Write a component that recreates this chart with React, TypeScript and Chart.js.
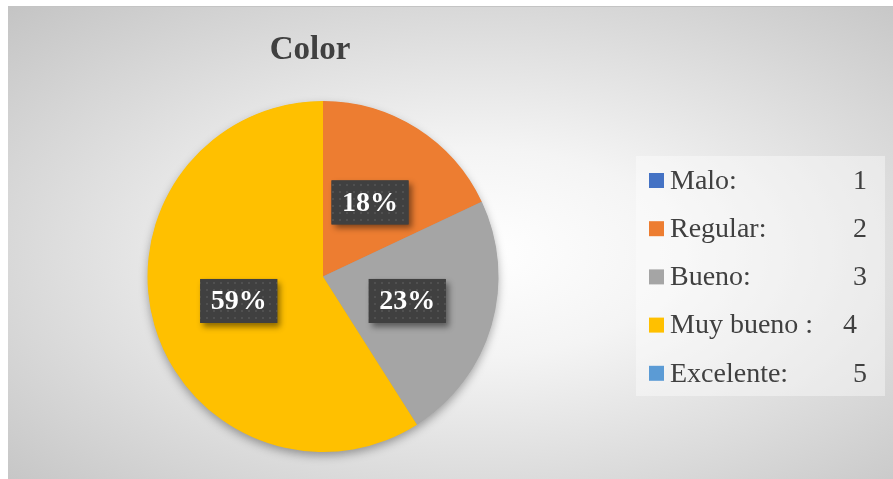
import React, { useEffect, useRef } from "react";
import { Chart, registerables } from "chart.js";

Chart.register(...registerables);

const chartTitle = "Color";
const categories = ["Malo:", "Regular:", "Bueno:", "Muy bueno :", "Excelente:"];
const legendNumbers = ["1", "2", "3", "4", "5"];
const values = [0, 18, 23, 59, 0];
const colors = ["#4472C4", "#ED7D31", "#A5A5A5", "#FFC000", "#5B9BD5"];

const W = 885;
const H = 473;
const SERIF = "'Liberation Serif', 'Times New Roman', serif";
const TEXT = "#404040";

function makePattern(ctx: CanvasRenderingContext2D) {
  const c = document.createElement("canvas");
  c.width = 7;
  c.height = 7;
  const g = c.getContext("2d")!;
  g.fillStyle = "#404040";
  g.fillRect(0, 0, 7, 7);
  g.fillStyle = "#505050";
  g.fillRect(2, 2, 2, 2);
  return ctx.createPattern(c, "repeat");
}

const decorPlugin = {
  id: "decor",
  beforeDatasetsDraw(chart: any) {
    const ctx = chart.ctx as CanvasRenderingContext2D;
    const meta = chart.getDatasetMeta(0);
    const el = meta.data.find((d: any) => d);
    if (!el) return;
    const { x, y, outerRadius } = el.getProps(["x", "y", "outerRadius"], true);
    ctx.save();
    ctx.shadowColor = "rgba(0,0,0,0.35)";
    ctx.shadowBlur = 10;
    ctx.shadowOffsetY = 4;
    ctx.fillStyle = "#999";
    ctx.beginPath();
    ctx.arc(x, y, outerRadius - 0.5, 0, Math.PI * 2);
    ctx.fill();
    ctx.restore();
  },
  afterDraw(chart: any) {
    const ctx = chart.ctx as CanvasRenderingContext2D;
    // Title
    ctx.save();
    ctx.fillStyle = TEXT;
    ctx.font = `bold 33px ${SERIF}`;
    ctx.textAlign = "center";
    ctx.textBaseline = "alphabetic";
    ctx.fillText(chartTitle, 302, 52);
    ctx.restore();

    // Data labels
    const total = values.reduce((a, b) => a + b, 0);
    const meta = chart.getDatasetMeta(0);
    const pattern = makePattern(ctx);
    meta.data.forEach((arc: any, i: number) => {
      const v = values[i];
      if (!v) return;
      const p = arc.getCenterPoint(true);
      const label = Math.round((v / total) * 100) + "%";
      const bw = 77;
      const bh = 44;
      const bx = p.x - bw / 2;
      const by = p.y - bh / 2;
      ctx.save();
      ctx.shadowColor = "rgba(0,0,0,0.45)";
      ctx.shadowBlur = 6;
      ctx.shadowOffsetX = 3;
      ctx.shadowOffsetY = 4;
      ctx.fillStyle = "#404040";
      ctx.fillRect(bx, by, bw, bh);
      ctx.restore();
      ctx.save();
      if (pattern) {
        ctx.fillStyle = pattern;
        ctx.fillRect(bx, by, bw, bh);
      }
      ctx.fillStyle = "#ffffff";
      ctx.font = `bold 28px ${SERIF}`;
      ctx.textAlign = "center";
      ctx.textBaseline = "middle";
      ctx.fillText(label, p.x, p.y + 1);
      ctx.restore();
    });

    // Legend
    ctx.save();
    ctx.fillStyle = "rgba(255,255,255,0.4)";
    ctx.fillRect(628, 149, 249, 240);
    ctx.font = `28px ${SERIF}`;
    ctx.textBaseline = "middle";
    ctx.textAlign = "left";
    categories.forEach((name, i) => {
      const cy = 173.5 + 48.2 * i;
      ctx.fillStyle = colors[i];
      ctx.fillRect(641, cy - 7.5, 15, 15);
      ctx.fillStyle = TEXT;
      ctx.fillText(name, 662, cy + 1);
      const end = 662 + ctx.measureText(name).width;
      const nx = end + 40 > 845 ? end + 30 : 845;
      ctx.fillText(legendNumbers[i], nx, cy + 1);
    });
    ctx.restore();
  },
};

export default function App() {
  const ref = useRef<HTMLCanvasElement>(null);
  useEffect(() => {
    if (!ref.current) return;
    const chart = new Chart(ref.current, {
      type: "pie",
      data: {
        labels: categories,
        datasets: [
          {
            data: values,
            backgroundColor: colors,
            borderWidth: 0,
          },
        ],
      },
      options: {
        responsive: false,
        animation: false,
        events: [],
        layout: { padding: { left: 139, right: 394, top: 94, bottom: 27 } },
        plugins: {
          legend: { display: false },
          title: { display: false },
          tooltip: { enabled: false },
        },
      },
      plugins: [decorPlugin],
    });
    return () => chart.destroy();
  }, []);
  return (
    <div
      style={{
        position: "fixed",
        left: 8,
        top: 6,
        width: W,
        height: H,
        borderTop: "1px solid #c4c4c4",
        boxSizing: "border-box",
        background:
          "radial-gradient(ellipse farthest-corner at 53% 52%, #ffffff 0%, #f4f4f4 30%, #c4c4c4 100%)",
      }}
    >
      <canvas ref={ref} width={W} height={H - 1} style={{ display: "block", width: W, height: H - 1 }} />
    </div>
  );
}
